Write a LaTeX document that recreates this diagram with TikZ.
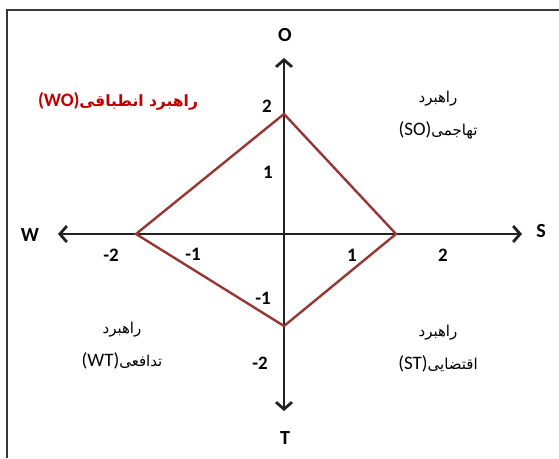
\documentclass[tikz,border=0pt]{standalone}
\usepackage{fontspec}
\setmainfont{Carlito}
\newfontfamily\arabicfont[Script=Arabic]{DejaVu Sans}
\TeXXeTstate=1
\usetikzlibrary{arrows.meta}
\definecolor{axiscol}{HTML}{222222}
\definecolor{diamcol}{HTML}{953735}
\definecolor{labred}{HTML}{C00000}
\newcommand{\ar}[1]{{\arabicfont\beginR #1\endR}}
\newcommand{\lat}[1]{{\fontsize{19}{22}\selectfont #1}}
\begin{document}
\begin{tikzpicture}[x=1pt,y=-1pt,
  frameline/.style={draw=axiscol!90, line width=1.6pt},
  axisline/.style={draw=axiscol, line width=2.8pt, arrows={Straight Barb[length=7pt,width=16pt,line width=2.8pt]-Straight Barb[length=7pt,width=16pt,line width=2.8pt]}},
  diamline/.style={draw=diamcol, line width=2.4pt, line join=miter},
  ticklab/.style={font=\fontsize{19}{22}\selectfont\bfseries, text=black, inner sep=0pt},
  axlab/.style={font=\fontsize{20}{22}\selectfont\bfseries, text=black, inner sep=0pt},
  quadlab/.style={font=\fontsize{15}{18}\selectfont, text=black, inner sep=0pt, align=center},
  redlab/.style={font=\fontsize{15.5}{18}\selectfont\bfseries, text=labred, inner sep=0pt}
]
\useasboundingbox (0,0) rectangle (559,458);
\draw[frameline] (7,458) -- (7,10) -- (559,10);
% axes
\coordinate (Wend) at (58,234);
\coordinate (Send) at (522,234);
\coordinate (Oend) at (284,58);
\coordinate (Tend) at (284,411);
\draw[axisline] (Wend) -- (Send);
\draw[axisline] (Tend) -- (Oend);
% diamond
\coordinate (dtop) at (284,114);
\coordinate (dleft) at (136,234);
\coordinate (dright) at (396,234);
\coordinate (dbot) at (284,326);
\draw[diamline] (dtop) -- (dright) -- (dbot) -- (dleft) -- cycle;
% axis labels
\node[axlab] (O) at (285,35) {O};
\node[axlab] (T) at (285,438) {T};
\node[axlab] (W) at (30,235) {W};
\node[axlab] (S) at (541,231) {S};
% tick labels
\node[ticklab] (y2) at (267,106) {2};
\node[ticklab] (y1) at (268,172) {1};
\node[ticklab] (ym1) at (263,298) {-1};
\node[ticklab] (ym2) at (260,363) {-2};
\node[ticklab] (xm2) at (111,255) {-2};
\node[ticklab] (xm1) at (193,254) {-1};
\node[ticklab] (x1) at (352,255) {1};
\node[ticklab] (x2) at (443,255) {2};
% quadrant labels
\node[redlab] (WO) at (118,101) {\lat{(WO)}\ar{راهبرد انطباقی}};
\node[quadlab] (SO1) at (438,99) {\ar{راهبرد}};
\node[quadlab] (SO2) at (438,130) {\lat{(SO)}\ar{تهاجمی}};
\node[quadlab] (WT1) at (122,330) {\ar{راهبرد}};
\node[quadlab] (WT2) at (122,361) {\lat{(WT)}\ar{تدافعی}};
\node[quadlab] (ST1) at (438,333) {\ar{راهبرد}};
\node[quadlab] (ST2) at (438,364) {\lat{(ST)}\ar{اقتضایی}};
\end{tikzpicture}
\end{document}
